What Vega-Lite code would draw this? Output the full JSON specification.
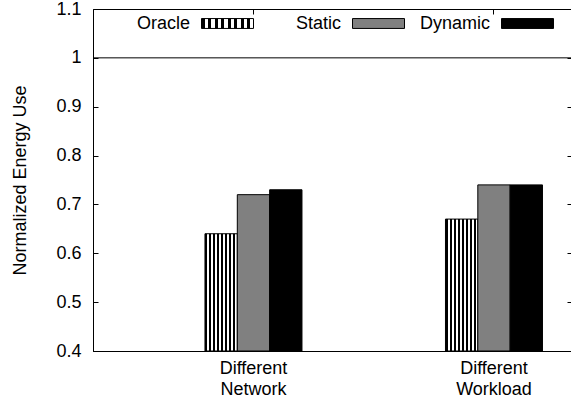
{
  "$schema": "https://vega.github.io/schema/vega-lite/v6.json",
  "width": 478,
  "height": 342,
  "autosize": "none",
  "padding": {"left": 93, "top": 9, "right": 0, "bottom": 50},
  "background": "white",
  "config": {
    "font": "Liberation Sans",
    "view": {"stroke": "black", "strokeWidth": 1},
    "axis": {
      "grid": false,
      "domainColor": "black",
      "tickColor": "black",
      "labelColor": "black",
      "titleColor": "black",
      "labelFontSize": 18,
      "titleFontSize": 18,
      "titleFontWeight": "normal",
      "labelFont": "Liberation Sans",
      "titleFont": "Liberation Sans"
    },
    "legend": {
      "labelFont": "Liberation Sans",
      "labelFontSize": 18,
      "labelColor": "black",
      "title": null,
      "orient": "none",
      "direction": "horizontal",
      "symbolType": "M-1,-0.19H1V0.19H-1Z",
      "symbolSize": 2704,
      "symbolOpacity": 1,
      "symbolStrokeColor": "black",
      "symbolStrokeWidth": 1,
      "labelAlign": "right",
      "labelOffset": -64
    }
  },
  "datasets": {
    "bars": [
      {"category": "Different Network", "series": "Oracle", "value": 0.64},
      {"category": "Different Network", "series": "Static", "value": 0.72},
      {"category": "Different Network", "series": "Dynamic", "value": 0.73},
      {"category": "Different Workload", "series": "Oracle", "value": 0.67},
      {"category": "Different Workload", "series": "Static", "value": 0.74},
      {"category": "Different Workload", "series": "Dynamic", "value": 0.74}
    ]
  },
  "layer": [
    {
      "data": {"name": "bars"},
      "mark": {"type": "bar", "stroke": "black", "strokeWidth": 1},
      "encoding": {
        "x": {
          "field": "category",
          "type": "nominal",
          "sort": null,
          "scale": {"paddingInner": 0.5967, "paddingOuter": 0.2921, "align": 0.797},
          "axis": {
            "orient": "bottom",
            "title": null,
            "labelAngle": 0,
            "labelExpr": "split(datum.label, ' ')",
            "labelLineHeight": 21,
            "labelPadding": 13,
            "tickSize": -5,
            "labelBaseline": "top",
            "domain": true
          }
        },
        "xOffset": {"field": "series", "type": "nominal", "sort": ["Oracle", "Static", "Dynamic"], "scale": {"paddingInner": 0, "paddingOuter": 0}},
        "y": {
          "field": "value",
          "type": "quantitative",
          "scale": {"domain": [0.4, 1.1], "zero": false, "nice": false},
          "axis": {
            "orient": "left",
            "title": "Normalized Energy Use",
            "values": [0.4, 0.5, 0.6, 0.7, 0.8, 0.9, 1, 1.1],
            "format": "~g",
            "tickSize": -5,
            "labelPadding": 17,
            "titlePadding": 26
          }
        },
        "y2": {"datum": 0.4},
        "fill": {
          "field": "series",
          "type": "nominal",
          "scale": {
            "domain": ["Oracle", "Static", "Dynamic"],
            "range": [
              {"expr": "{gradient: 'linear', x1: 0, y1: 0, x2: 1, y2: 0, stops: [{offset: 0, color: 'black'}, {offset: 0.0625, color: 'black'}, {offset: 0.0625, color: 'white'}, {offset: 0.125, color: 'white'}, {offset: 0.125, color: 'black'}, {offset: 0.1875, color: 'black'}, {offset: 0.1875, color: 'white'}, {offset: 0.25, color: 'white'}, {offset: 0.25, color: 'black'}, {offset: 0.3125, color: 'black'}, {offset: 0.3125, color: 'white'}, {offset: 0.375, color: 'white'}, {offset: 0.375, color: 'black'}, {offset: 0.4375, color: 'black'}, {offset: 0.4375, color: 'white'}, {offset: 0.5, color: 'white'}, {offset: 0.5, color: 'black'}, {offset: 0.5625, color: 'black'}, {offset: 0.5625, color: 'white'}, {offset: 0.625, color: 'white'}, {offset: 0.625, color: 'black'}, {offset: 0.6875, color: 'black'}, {offset: 0.6875, color: 'white'}, {offset: 0.75, color: 'white'}, {offset: 0.75, color: 'black'}, {offset: 0.8125, color: 'black'}, {offset: 0.8125, color: 'white'}, {offset: 0.875, color: 'white'}, {offset: 0.875, color: 'black'}, {offset: 0.9375, color: 'black'}, {offset: 0.9375, color: 'white'}, {offset: 1, color: 'white'}]}"},
              "#808080",
              "#000000"
            ]
          },
          "legend": {
            "values": ["Oracle"],
            "legendX": 108,
            "legendY": -12
          }
        }
      }
    },
    {
      "data": {"values": [{}]},
      "mark": {"type": "rule", "color": "black", "strokeWidth": 1},
      "encoding": {
        "y": {
          "datum": 1,
          "type": "quantitative",
          "axis": {
            "orient": "right",
            "title": null,
            "labels": false,
            "domain": false,
            "values": [0.4, 0.5, 0.6, 0.7, 0.8, 0.9, 1, 1.1],
            "tickSize": -4
          }
        }
      }
    },
    {
      "data": {"name": "bars"},
      "transform": [{"filter": "datum.series === 'Static'"}],
      "mark": {"type": "point", "opacity": 0, "filled": true, "stroke": "black"},
      "encoding": {
        "x": {
          "field": "category",
          "type": "nominal",
          "sort": null,
          "axis": {"orient": "top", "title": null, "labels": false, "domain": false, "tickSize": -5}
        },
        "fill": {
          "field": "series",
          "type": "nominal",
          "scale": {"domain": ["Static"], "range": ["#808080"]},
          "legend": {"legendX": 259, "legendY": -12}
        }
      }
    },
    {
      "data": {"name": "bars"},
      "transform": [{"filter": "datum.series === 'Dynamic'"}],
      "mark": {"type": "point", "opacity": 0, "filled": true, "stroke": "black"},
      "encoding": {
        "fill": {
          "field": "series",
          "type": "nominal",
          "scale": {"domain": ["Dynamic"], "range": ["#000000"]},
          "legend": {"legendX": 408, "legendY": -12}
        }
      }
    }
  ],
  "resolve": {"axis": {"x": "independent", "y": "independent"}, "scale": {"fill": "independent"}}
}
